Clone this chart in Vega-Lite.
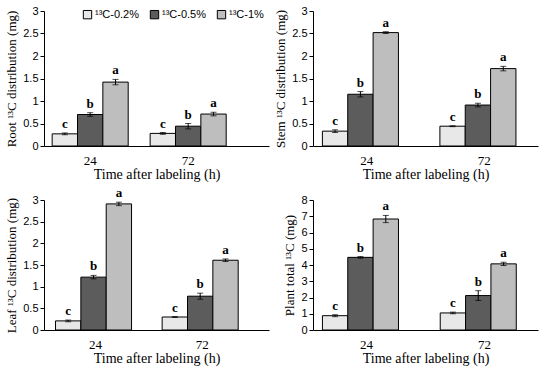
{
  "$schema": "https://vega.github.io/schema/vega-lite/v6.json",
  "datasets": {
    "d": [
      {"organ": "Root", "time": "24", "treatment": "¹³C-0.2%", "value": 0.27, "err": 0.02, "lo": 0.25, "hi": 0.29, "letter": "c"},
      {"organ": "Root", "time": "24", "treatment": "¹³C-0.5%", "value": 0.70, "err": 0.04, "lo": 0.66, "hi": 0.74, "letter": "b"},
      {"organ": "Root", "time": "24", "treatment": "¹³C-1%", "value": 1.42, "err": 0.06, "lo": 1.36, "hi": 1.48, "letter": "a"},
      {"organ": "Root", "time": "72", "treatment": "¹³C-0.2%", "value": 0.28, "err": 0.02, "lo": 0.26, "hi": 0.30, "letter": "c"},
      {"organ": "Root", "time": "72", "treatment": "¹³C-0.5%", "value": 0.44, "err": 0.06, "lo": 0.38, "hi": 0.50, "letter": "b"},
      {"organ": "Root", "time": "72", "treatment": "¹³C-1%", "value": 0.71, "err": 0.04, "lo": 0.67, "hi": 0.75, "letter": "a"},
      {"organ": "Stem", "time": "24", "treatment": "¹³C-0.2%", "value": 0.33, "err": 0.03, "lo": 0.30, "hi": 0.36, "letter": "c"},
      {"organ": "Stem", "time": "24", "treatment": "¹³C-0.5%", "value": 1.15, "err": 0.06, "lo": 1.09, "hi": 1.21, "letter": "b"},
      {"organ": "Stem", "time": "24", "treatment": "¹³C-1%", "value": 2.52, "err": 0.02, "lo": 2.50, "hi": 2.54, "letter": "a"},
      {"organ": "Stem", "time": "72", "treatment": "¹³C-0.2%", "value": 0.44, "err": 0.01, "lo": 0.43, "hi": 0.45, "letter": "c"},
      {"organ": "Stem", "time": "72", "treatment": "¹³C-0.5%", "value": 0.91, "err": 0.04, "lo": 0.87, "hi": 0.95, "letter": "b"},
      {"organ": "Stem", "time": "72", "treatment": "¹³C-1%", "value": 1.72, "err": 0.05, "lo": 1.67, "hi": 1.77, "letter": "a"},
      {"organ": "Leaf", "time": "24", "treatment": "¹³C-0.2%", "value": 0.21, "err": 0.02, "lo": 0.19, "hi": 0.23, "letter": "c"},
      {"organ": "Leaf", "time": "24", "treatment": "¹³C-0.5%", "value": 1.22, "err": 0.04, "lo": 1.18, "hi": 1.26, "letter": "b"},
      {"organ": "Leaf", "time": "24", "treatment": "¹³C-1%", "value": 2.91, "err": 0.04, "lo": 2.87, "hi": 2.95, "letter": "a"},
      {"organ": "Leaf", "time": "72", "treatment": "¹³C-0.2%", "value": 0.30, "err": 0.01, "lo": 0.29, "hi": 0.31, "letter": "c"},
      {"organ": "Leaf", "time": "72", "treatment": "¹³C-0.5%", "value": 0.78, "err": 0.07, "lo": 0.71, "hi": 0.85, "letter": "b"},
      {"organ": "Leaf", "time": "72", "treatment": "¹³C-1%", "value": 1.61, "err": 0.03, "lo": 1.58, "hi": 1.64, "letter": "a"},
      {"organ": "Plant", "time": "24", "treatment": "¹³C-0.2%", "value": 0.88, "err": 0.06, "lo": 0.82, "hi": 0.94, "letter": "c"},
      {"organ": "Plant", "time": "24", "treatment": "¹³C-0.5%", "value": 4.47, "err": 0.05, "lo": 4.42, "hi": 4.52, "letter": "b"},
      {"organ": "Plant", "time": "24", "treatment": "¹³C-1%", "value": 6.83, "err": 0.22, "lo": 6.61, "hi": 7.05, "letter": "a"},
      {"organ": "Plant", "time": "72", "treatment": "¹³C-0.2%", "value": 1.05, "err": 0.05, "lo": 1.00, "hi": 1.10, "letter": "c"},
      {"organ": "Plant", "time": "72", "treatment": "¹³C-0.5%", "value": 2.12, "err": 0.30, "lo": 1.82, "hi": 2.42, "letter": "b"},
      {"organ": "Plant", "time": "72", "treatment": "¹³C-1%", "value": 4.07, "err": 0.10, "lo": 3.97, "hi": 4.17, "letter": "a"}
    ]
  },
  "config": {
    "view": {"stroke": null},
    "font": "Liberation Serif",
    "axis": {
      "domainColor": "black", "tickColor": "black", "labelColor": "black", "titleColor": "black",
      "titleFontWeight": "normal", "grid": false
    },
    "axisX": {"labelAngle": 0, "ticks": false, "labelFont": "Liberation Serif", "labelFontSize": 13, "titleFontSize": 14, "titlePadding": 0, "labelPadding": 8},
    "axisY": {"labelFont": "Liberation Sans", "labelFontSize": 11, "titleFontSize": 13, "tickSize": 4, "format": "~g", "titlePadding": 4, "labelOverlap": false, "labelFlush": false},
    "text": {"font": "Liberation Serif", "fontSize": 13, "fontWeight": "bold", "color": "black"}
  },
  "resolve": {"scale": {"color": "independent"}, "legend": {"color": "independent"}},
  "columns": 2,
  "spacing": {"row": 6, "column": 5},
  "concat": [
    {
      "width": 225, "height": 135,
      "data": {"name": "d"},
      "transform": [{"filter": "datum.organ === 'Root'"}],
      "encoding": {
        "x": {"field": "time", "type": "nominal", "scale": {"paddingInner": 0.224, "paddingOuter": 0.26, "align": 0.16}, "title": "Time after labeling (h)"},
        "xOffset": {"field": "treatment", "type": "nominal", "sort": ["¹³C-0.2%", "¹³C-0.5%", "¹³C-1%"]}
      },
      "layer": [
        {"mark": {"type": "bar", "stroke": "black", "strokeWidth": 1},
         "encoding": {
           "y": {"field": "value", "type": "quantitative", "scale": {"domain": [0, 3]}, "axis": {"values": [0, 0.5, 1, 1.5, 2, 2.5, 3]}, "title": "Root ¹³C distribution (mg)"},
           "color": {"field": "treatment", "type": "nominal", "sort": ["¹³C-0.2%", "¹³C-0.5%", "¹³C-1%"],
             "scale": {"domain": ["¹³C-0.2%", "¹³C-0.5%", "¹³C-1%"], "range": ["#e8e8e8", "#5c5c5c", "#bebebe"]},
             "legend": {"orient": "none", "legendX": 38, "legendY": -2, "direction": "horizontal", "title": null, "symbolType": "square", "symbolSize": 70, "symbolStrokeColor": "black", "symbolStrokeWidth": 1, "symbolOpacity": 1, "labelFont": "Liberation Sans", "labelFontSize": 11, "labelColor": "black", "columnPadding": 8, "labelOffset": 2}}
         }},
        {"mark": {"type": "rule", "color": "black"},
         "encoding": {"y": {"field": "lo", "type": "quantitative", "axis": {"values": [0, 0.5, 1, 1.5, 2, 2.5, 3]}, "title": "Root ¹³C distribution (mg)"}, "y2": {"field": "hi"}}},
        {"mark": {"type": "tick", "color": "black", "size": 6, "thickness": 1},
         "encoding": {"y": {"field": "lo", "type": "quantitative", "axis": {"values": [0, 0.5, 1, 1.5, 2, 2.5, 3]}, "title": "Root ¹³C distribution (mg)"}}},
        {"mark": {"type": "tick", "color": "black", "size": 6, "thickness": 1},
         "encoding": {"y": {"field": "hi", "type": "quantitative", "axis": {"values": [0, 0.5, 1, 1.5, 2, 2.5, 3]}, "title": "Root ¹³C distribution (mg)"}}},
        {"mark": {"type": "text", "dy": -9},
         "encoding": {"y": {"field": "hi", "type": "quantitative", "axis": {"values": [0, 0.5, 1, 1.5, 2, 2.5, 3]}, "title": "Root ¹³C distribution (mg)"}, "text": {"field": "letter"}}}
      ]
    },
    {
      "width": 225, "height": 135,
      "data": {"name": "d"},
      "transform": [{"filter": "datum.organ === 'Stem'"}],
      "encoding": {
        "x": {"field": "time", "type": "nominal", "scale": {"paddingInner": 0.245, "paddingOuter": 0.08}, "title": "Time after labeling (h)"},
        "xOffset": {"field": "treatment", "type": "nominal", "sort": ["¹³C-0.2%", "¹³C-0.5%", "¹³C-1%"]}
      },
      "layer": [
        {"mark": {"type": "bar", "stroke": "black", "strokeWidth": 1},
         "encoding": {
           "y": {"field": "value", "type": "quantitative", "scale": {"domain": [0, 3]}, "axis": {"values": [0, 0.5, 1, 1.5, 2, 2.5, 3]}, "title": "Stem ¹³C distribution (mg)"},
           "color": {"field": "treatment", "type": "nominal", "sort": ["¹³C-0.2%", "¹³C-0.5%", "¹³C-1%"],
             "scale": {"domain": ["¹³C-0.2%", "¹³C-0.5%", "¹³C-1%"], "range": ["#e8e8e8", "#5c5c5c", "#bebebe"]}, "legend": null}
         }},
        {"mark": {"type": "rule", "color": "black"},
         "encoding": {"y": {"field": "lo", "type": "quantitative", "axis": {"values": [0, 0.5, 1, 1.5, 2, 2.5, 3]}, "title": "Stem ¹³C distribution (mg)"}, "y2": {"field": "hi"}}},
        {"mark": {"type": "tick", "color": "black", "size": 6, "thickness": 1},
         "encoding": {"y": {"field": "lo", "type": "quantitative", "axis": {"values": [0, 0.5, 1, 1.5, 2, 2.5, 3]}, "title": "Stem ¹³C distribution (mg)"}}},
        {"mark": {"type": "tick", "color": "black", "size": 6, "thickness": 1},
         "encoding": {"y": {"field": "hi", "type": "quantitative", "axis": {"values": [0, 0.5, 1, 1.5, 2, 2.5, 3]}, "title": "Stem ¹³C distribution (mg)"}}},
        {"mark": {"type": "text", "dy": -9},
         "encoding": {"y": {"field": "hi", "type": "quantitative", "axis": {"values": [0, 0.5, 1, 1.5, 2, 2.5, 3]}, "title": "Stem ¹³C distribution (mg)"}, "text": {"field": "letter"}}}
      ]
    },
    {
      "width": 225, "height": 130,
      "data": {"name": "d"},
      "transform": [{"filter": "datum.organ === 'Leaf'"}],
      "encoding": {
        "x": {"field": "time", "type": "nominal", "scale": {"paddingInner": 0.25, "paddingOuter": 0.18, "align": 0.3}, "title": "Time after labeling (h)"},
        "xOffset": {"field": "treatment", "type": "nominal", "sort": ["¹³C-0.2%", "¹³C-0.5%", "¹³C-1%"]}
      },
      "layer": [
        {"mark": {"type": "bar", "stroke": "black", "strokeWidth": 1},
         "encoding": {
           "y": {"field": "value", "type": "quantitative", "scale": {"domain": [0, 3]}, "axis": {"values": [0, 0.5, 1, 1.5, 2, 2.5, 3]}, "title": "Leaf ¹³C distribution (mg)"},
           "color": {"field": "treatment", "type": "nominal", "sort": ["¹³C-0.2%", "¹³C-0.5%", "¹³C-1%"],
             "scale": {"domain": ["¹³C-0.2%", "¹³C-0.5%", "¹³C-1%"], "range": ["#e8e8e8", "#5c5c5c", "#bebebe"]}, "legend": null}
         }},
        {"mark": {"type": "rule", "color": "black"},
         "encoding": {"y": {"field": "lo", "type": "quantitative", "axis": {"values": [0, 0.5, 1, 1.5, 2, 2.5, 3]}, "title": "Leaf ¹³C distribution (mg)"}, "y2": {"field": "hi"}}},
        {"mark": {"type": "tick", "color": "black", "size": 6, "thickness": 1},
         "encoding": {"y": {"field": "lo", "type": "quantitative", "axis": {"values": [0, 0.5, 1, 1.5, 2, 2.5, 3]}, "title": "Leaf ¹³C distribution (mg)"}}},
        {"mark": {"type": "tick", "color": "black", "size": 6, "thickness": 1},
         "encoding": {"y": {"field": "hi", "type": "quantitative", "axis": {"values": [0, 0.5, 1, 1.5, 2, 2.5, 3]}, "title": "Leaf ¹³C distribution (mg)"}}},
        {"mark": {"type": "text", "dy": -9},
         "encoding": {"y": {"field": "hi", "type": "quantitative", "axis": {"values": [0, 0.5, 1, 1.5, 2, 2.5, 3]}, "title": "Leaf ¹³C distribution (mg)"}, "text": {"field": "letter"}}}
      ]
    },
    {
      "width": 225, "height": 130,
      "data": {"name": "d"},
      "transform": [{"filter": "datum.organ === 'Plant'"}],
      "encoding": {
        "x": {"field": "time", "type": "nominal", "scale": {"paddingInner": 0.25, "paddingOuter": 0.08}, "title": "Time after labeling (h)"},
        "xOffset": {"field": "treatment", "type": "nominal", "sort": ["¹³C-0.2%", "¹³C-0.5%", "¹³C-1%"]}
      },
      "layer": [
        {"mark": {"type": "bar", "stroke": "black", "strokeWidth": 1},
         "encoding": {
           "y": {"field": "value", "type": "quantitative", "scale": {"domain": [0, 8]}, "axis": {"values": [0, 1, 2, 3, 4, 5, 6, 7, 8]}, "title": "Plant total ¹³C (mg)"},
           "color": {"field": "treatment", "type": "nominal", "sort": ["¹³C-0.2%", "¹³C-0.5%", "¹³C-1%"],
             "scale": {"domain": ["¹³C-0.2%", "¹³C-0.5%", "¹³C-1%"], "range": ["#e8e8e8", "#5c5c5c", "#bebebe"]}, "legend": null}
         }},
        {"mark": {"type": "rule", "color": "black"},
         "encoding": {"y": {"field": "lo", "type": "quantitative", "axis": {"values": [0, 1, 2, 3, 4, 5, 6, 7, 8]}, "title": "Plant total ¹³C (mg)"}, "y2": {"field": "hi"}}},
        {"mark": {"type": "tick", "color": "black", "size": 6, "thickness": 1},
         "encoding": {"y": {"field": "lo", "type": "quantitative", "axis": {"values": [0, 1, 2, 3, 4, 5, 6, 7, 8]}, "title": "Plant total ¹³C (mg)"}}},
        {"mark": {"type": "tick", "color": "black", "size": 6, "thickness": 1},
         "encoding": {"y": {"field": "hi", "type": "quantitative", "axis": {"values": [0, 1, 2, 3, 4, 5, 6, 7, 8]}, "title": "Plant total ¹³C (mg)"}}},
        {"mark": {"type": "text", "dy": -9},
         "encoding": {"y": {"field": "hi", "type": "quantitative", "axis": {"values": [0, 1, 2, 3, 4, 5, 6, 7, 8]}, "title": "Plant total ¹³C (mg)"}, "text": {"field": "letter"}}}
      ]
    }
  ]
}
